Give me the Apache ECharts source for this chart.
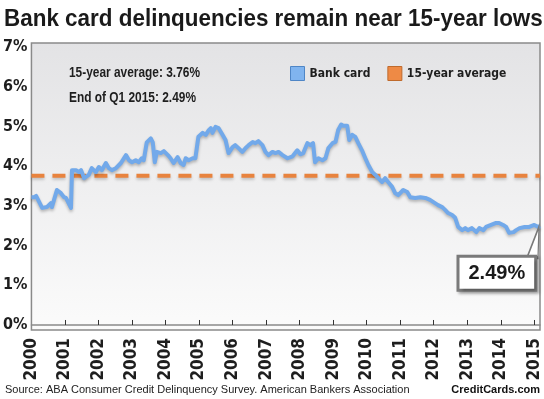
<!DOCTYPE html>
<html>
<head>
<meta charset="utf-8">
<script src="https://cdn.jsdelivr.net/npm/echarts@6/dist/echarts.min.js"></script>
<style>
  html, body { margin: 0; padding: 0; background: #fff; }
  #chart { width: 544px; height: 399px; }
</style>
</head>
<body>
<div id="chart"></div>
<script>
// delinquency rate (%)
const years = [
  2000.00, 2000.08, 2000.14, 2000.23, 2000.32, 2000.46, 2000.58, 2000.61, 2000.76, 2000.88,
  2000.97, 2001.03, 2001.18, 2001.21, 2001.33, 2001.42, 2001.48, 2001.57, 2001.71, 2001.80,
  2001.92, 2002.01, 2002.10, 2002.22, 2002.31, 2002.40, 2002.52, 2002.67, 2002.82, 2002.91,
  2003.00, 2003.11, 2003.20, 2003.29, 2003.35, 2003.44, 2003.56, 2003.62, 2003.68, 2003.74,
  2003.86, 2003.95, 2004.07, 2004.15, 2004.24, 2004.36, 2004.45, 2004.54, 2004.60, 2004.69,
  2004.81, 2004.89, 2004.98, 2005.11, 2005.20, 2005.29, 2005.35, 2005.40, 2005.49, 2005.58,
  2005.70, 2005.79, 2005.88, 2006.00, 2006.08, 2006.17, 2006.29, 2006.39, 2006.48, 2006.60,
  2006.68, 2006.77, 2006.89, 2006.98, 2007.07, 2007.19, 2007.28, 2007.37, 2007.49, 2007.64,
  2007.79, 2007.93, 2008.02, 2008.11, 2008.23, 2008.32, 2008.40, 2008.46, 2008.56, 2008.68,
  2008.77, 2008.86, 2008.98, 2009.07, 2009.15, 2009.24, 2009.30, 2009.42, 2009.48, 2009.57,
  2009.66, 2009.75, 2009.86, 2009.96, 2010.05, 2010.17, 2010.26, 2010.35, 2010.46, 2010.55,
  2010.64, 2010.76, 2010.85, 2010.94, 2011.09, 2011.21, 2011.30, 2011.45, 2011.60, 2011.75,
  2011.89, 2011.98, 2012.13, 2012.25, 2012.34, 2012.43, 2012.55, 2012.64, 2012.73, 2012.85,
  2012.94, 2013.02, 2013.14, 2013.27, 2013.36, 2013.48, 2013.56, 2013.71, 2013.86, 2013.95,
  2014.07, 2014.16, 2014.25, 2014.38, 2014.46, 2014.56, 2014.71, 2014.85, 2015.00, 2015.12,
  2015.17
];
const rates = [
  3.22, 3.22, 3.25, 3.10, 2.95, 2.97, 3.07, 2.97, 3.40, 3.32,
  3.22, 3.20, 2.95, 3.90, 3.90, 3.85, 3.90, 3.70, 3.78, 3.95,
  3.85, 3.98, 3.90, 4.08, 3.95, 3.90, 3.95, 4.08, 4.28, 4.15,
  4.10, 4.15, 4.10, 4.20, 4.15, 4.60, 4.70, 4.60, 4.10, 4.36,
  4.33, 4.38, 4.28, 4.20, 4.08, 4.23, 4.08, 4.03, 4.20, 4.15,
  4.20, 4.20, 4.74, 4.84, 4.79, 4.91, 4.96, 4.84, 4.99, 4.96,
  4.79, 4.66, 4.33, 4.48, 4.53, 4.46, 4.36, 4.46, 4.53, 4.61,
  4.58, 4.63, 4.53, 4.36, 4.28, 4.36, 4.33, 4.36, 4.28, 4.20,
  4.25, 4.40, 4.30, 4.33, 4.58, 4.53, 4.58, 4.10, 4.20, 4.15,
  4.20, 4.46, 4.58, 4.61, 4.91, 5.05, 5.02, 5.02, 4.66, 4.79,
  4.74, 4.58, 4.40, 4.20, 4.03, 3.85, 3.78, 3.70, 3.60, 3.70,
  3.60, 3.48, 3.32, 3.27, 3.40, 3.35, 3.22, 3.20, 3.22, 3.20,
  3.15, 3.10, 3.02, 2.97, 2.90, 2.82, 2.77, 2.70, 2.47, 2.39,
  2.44, 2.39, 2.44, 2.34, 2.44, 2.39, 2.47, 2.52, 2.57, 2.57,
  2.52, 2.47, 2.32, 2.34, 2.39, 2.44, 2.47, 2.47, 2.52, 2.47,
  2.49
];
const average = 3.76;
const lastValue = 2.49;
const xMin = 2000, xMax = 2015.17;
const yearTicks = [2000, 2001, 2002, 2003, 2004, 2005, 2006, 2007, 2008, 2009, 2010, 2011, 2012, 2013, 2014, 2015];
const pctTicks = [0, 1, 2, 3, 4, 5, 6, 7];

const narrow = '"DejaVu Sans Condensed", "DejaVu Sans", sans-serif';
const sans = '"Liberation Sans", Arial, sans-serif';
const blue = '#72a9ea';
const orange = '#e8833e';

let myChart = echarts.init(document.getElementById('chart'));
let lineData = years.map((y, i) => [y, rates[i]]);
let last = lineData[lineData.length - 1];

myChart.setOption({
  animation: false,
  backgroundColor: '#fff',
  // condensed headline texts (squeezed horizontally, no narrow font installed)
  graphic: [
    {
      type: 'text', x: 4, y: 7, scaleX: 0.935, z: 10,
      style: {
        text: 'Bank card delinquencies remain near 15-year lows',
        font: 'bold 24px ' + sans, fill: '#1a1a1a', verticalAlign: 'top'
      }
    },
    {
      type: 'text', x: 69, y: 66, scaleX: 0.85, z: 10,
      style: {
        text: '15-year average: ' + average.toFixed(2) + '%',
        font: 'bold 14px ' + sans, fill: '#1e1e1e', verticalAlign: 'top'
      }
    },
    {
      type: 'text', x: 69, y: 91, scaleX: 0.85, z: 10,
      style: {
        text: 'End of Q1 2015: ' + lastValue.toFixed(2) + '%',
        font: 'bold 14px ' + sans, fill: '#1e1e1e', verticalAlign: 'top'
      }
    }
  ],
  title: [
    {
      text: 'Source: ABA Consumer Credit Delinquency Survey. American Bankers Association',
      left: 5, top: 384, padding: 0,
      textStyle: { fontFamily: sans, fontSize: 11, fontWeight: 'normal', color: '#222' }
    },
    {
      text: 'CreditCards.com',
      right: 4, top: 384, padding: 0,
      textStyle: { fontFamily: sans, fontSize: 11, fontWeight: 'bold', color: '#111' }
    }
  ],
  legend: {
    left: 290, top: 66, padding: 0,
    icon: 'rect',
    itemWidth: 14, itemHeight: 14,
    itemGap: 17,
    textStyle: { fontFamily: narrow, fontSize: 12, fontWeight: 'bold', color: '#1e1e1e' },
    data: [
      { name: 'Bank card', itemStyle: { color: '#80b4ef', borderColor: '#4f86c6', borderWidth: 1 } },
      { name: '15-year average', itemStyle: { color: '#ee8a45', borderColor: '#bf6a2c', borderWidth: 1 } }
    ]
  },
  grid: {
    left: 29, right: 4, top: 43, bottom: 69,
    show: true,
    borderColor: '#8a8a8a',
    borderWidth: 1.5,
    backgroundColor: {
      type: 'linear', x: 0, y: 0, x2: 0, y2: 1,
      colorStops: [{ offset: 0, color: '#e3e3e5' }, { offset: 1, color: '#fbfbfb' }]
    }
  },
  xAxis: {
    type: 'value',
    min: xMin, max: xMax,
    splitLine: { show: false },
    axisLine: { show: true, lineStyle: { color: '#8a8a8a', width: 1.5 } },
    axisTick: {
      show: true, inside: true, length: 5,
      customValues: yearTicks.slice(1),
      lineStyle: { color: '#333', width: 1 }
    },
    axisLabel: {
      customValues: yearTicks,
      rotate: 90, margin: 8,
      fontFamily: narrow, fontSize: 17, fontWeight: 'bold', color: '#1e1e1e',
      formatter: v => String(Math.round(v))
    }
  },
  yAxis: {
    type: 'value',
    min: -0.126, max: 7.103,
    splitLine: { show: false },
    axisLine: { show: false },
    axisTick: { show: false },
    axisLabel: {
      customValues: pctTicks,
      margin: 4,
      fontFamily: narrow, fontSize: 16, fontWeight: 'bold', color: '#1e1e1e',
      formatter: v => Math.round(v) + '%'
    }
  },
  series: [
    {
      name: '15-year average',
      type: 'line',
      data: [[xMin, average], [xMax, average]],
      symbol: 'none',
      z: 2,
      lineStyle: {
        color: orange, width: 4, type: [13, 8],
        shadowColor: 'rgba(0,0,0,0.2)', shadowBlur: 3, shadowOffsetY: 2
      },
      itemStyle: { color: orange }
    },
    {
      name: 'Bank card',
      type: 'line',
      data: lineData,
      symbol: 'none',
      z: 3,
      lineStyle: {
        color: blue, width: 4, join: 'round',
        shadowColor: 'rgba(0,0,0,0.25)', shadowBlur: 3, shadowOffsetY: 2
      },
      itemStyle: { color: blue },
      markPoint: {
        silent: true,
        data: [
          {
            coord: last,
            symbol: 'path://M12,0 L0,30 L11,30 Z',
            symbolSize: [12, 31],
            symbolOffset: [-7, 16],
            itemStyle: { color: '#fff', borderColor: '#7a7a7a', borderWidth: 2 },
            label: { show: false }
          },
          {
            coord: last,
            symbol: 'rect',
            symbolSize: 1,
            itemStyle: { color: 'rgba(0,0,0,0)' },
            label: {
              show: true,
              formatter: lastValue.toFixed(2) + '%',
              position: [-80, 32],
              fontFamily: sans, fontSize: 20, fontWeight: 'bold', color: '#1a1a1a',
              backgroundColor: '#fff',
              borderColor: '#7a7a7a', borderWidth: 3,
              padding: [6, 9, 5, 9],
              shadowColor: 'rgba(0,0,0,0.35)', shadowBlur: 3, shadowOffsetX: 2, shadowOffsetY: 2
            }
          }
        ]
      }
    }
  ]
});
</script>
</body>
</html>
